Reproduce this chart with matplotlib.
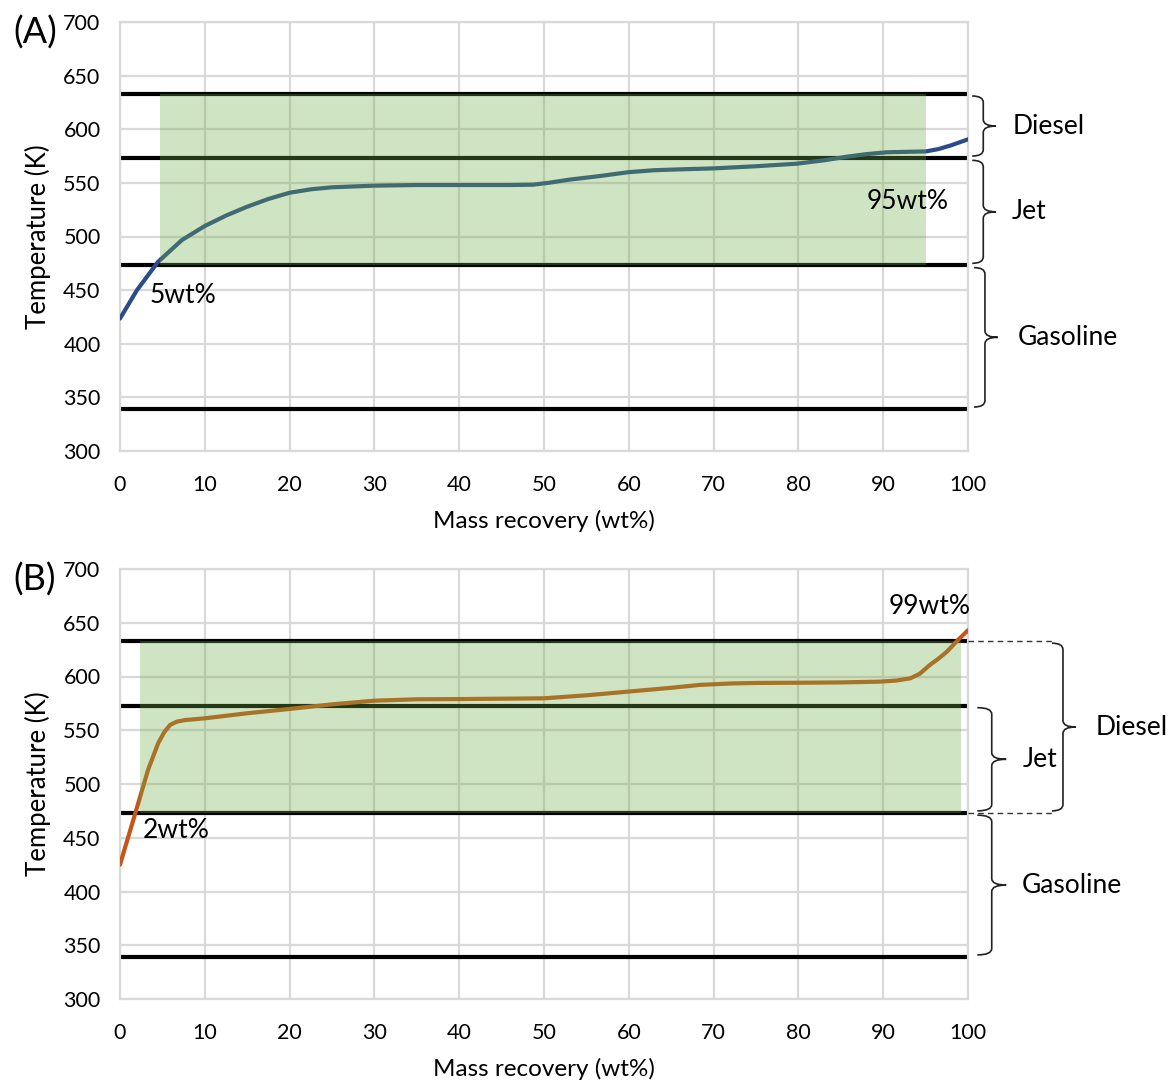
import matplotlib
matplotlib.use("Agg")
import matplotlib.pyplot as plt
from matplotlib.path import Path
from matplotlib.patches import PathPatch, Rectangle

plt.rcParams['font.family'] = ['Lato', 'DejaVu Sans']

# distillation curves
xA = [0, 2, 4.5, 7.3, 10, 12.5, 15, 17.5, 20, 22.5, 25, 30, 35, 40, 46, 48.7, 50.5, 53, 56.6, 60, 63, 66, 70, 75, 79.8, 83, 85.7, 88, 90.4, 93, 95, 96.5, 98, 100]
yA = [423.5, 450, 476.5, 496.7, 509.8, 519.5, 527.8, 535, 540.8, 544, 545.9, 547.4, 548, 548, 548, 548.3, 550, 553, 556.4, 560, 561.8, 562.6, 563.5, 565.5, 567.9, 571, 574.4, 576.8, 578.5, 579, 579.3, 581.5, 585, 590.6]

xB = [0, 1.8, 3.3, 4.5, 5.2, 5.9, 6.7, 7.7, 10, 15, 20, 25, 30, 35, 40, 50, 55, 60, 65, 68.4, 72, 75, 80, 85, 89.6, 91.5, 93.2, 94.3, 95.5, 96.5, 97.5, 98.9, 100]
yB = [425, 472.7, 513, 537.9, 548, 554.9, 558, 559.5, 561.1, 565.8, 569.8, 574.1, 577.5, 578.8, 579, 579.7, 582.5, 586, 589.5, 592.2, 593.5, 594, 594.2, 594.5, 595.2, 596.2, 598.3, 602.5, 610.7, 616.5, 623, 634.6, 643]

# cut temperatures (K)
cuts = [633, 573, 473, 339]
window_A = (4.7, 95.1)
window_B = (2.4, 99.2)
labels_A = [('5wt%', 3.5, 445), ('95wt%', 88.1, 533)]
labels_B = [('2wt%', 2.7, 457), ('99wt%', 90.6, 665)]

W, H = 1171, 1084
fig = plt.figure(figsize=(W / 100, H / 100), dpi=100)

grid_c = '#d9d9d9'
green = '#70ad47'
fs = 19


def brace(ax, xv, ytop, ybot, wl=1.3, wr=1.5, r=6):
    ym = (ytop + ybot) / 2
    verts = [(xv - wl, ytop), (xv, ytop), (xv, ytop - r),
             (xv, ym + r), (xv, ym), (xv + wr, ym),
             (xv, ym), (xv, ym - r),
             (xv, ybot + r), (xv, ybot), (xv - wl, ybot)]
    codes = [Path.MOVETO, Path.CURVE3, Path.CURVE3,
             Path.LINETO, Path.CURVE3, Path.CURVE3,
             Path.CURVE3, Path.CURVE3,
             Path.LINETO, Path.CURVE3, Path.CURVE3]
    p = PathPatch(Path(verts, codes), fill=False, lw=1.2, ec='#222222', clip_on=False, zorder=6)
    ax.add_patch(p)


def panel(rect, x, y, color, window, labels):
    ax = fig.add_axes(rect)
    ax.set_xlim(0, 100)
    ax.set_ylim(300, 700)
    ax.set_xticks(range(0, 101, 10))
    ax.set_yticks(range(300, 701, 50))
    ax.grid(True, color=grid_c, lw=1.6, zorder=0)
    for s in ax.spines.values():
        s.set_color(grid_c)
        s.set_linewidth(1.6)
    ax.tick_params(length=0, labelsize=15.5)
    ax.tick_params(axis='x', pad=17)
    ax.tick_params(axis='y', pad=14)
    for c in cuts:
        ax.axhline(c, color='black', lw=3, zorder=2)
    ax.plot(x, y, color=color, lw=3, zorder=3, solid_capstyle='round', solid_joinstyle='round')
    ax.add_patch(Rectangle((window[0], 473), window[1] - window[0], 633 - 473,
                           facecolor=green, alpha=0.33, lw=0, zorder=4))
    for t, tx, ty in labels:
        ax.text(tx, ty, t, fontsize=fs, ha='left', va='center', zorder=5)
    ax.text(-0.0967, 0.5, 'Temperature (K)', rotation=90, ha='center', va='center',
            fontsize=18.5, transform=ax.transAxes)
    ax.text(0.5, -0.163, 'Mass recovery (wt%)', ha='center', va='center',
            fontsize=17.5, transform=ax.transAxes)
    return ax


axA = panel([120 / W, 1 - 451 / H, 848 / W, 429 / H], xA, yA, '#2b4c88', window_A, labels_A)
axB = panel([120 / W, 1 - 999 / H, 848 / W, 430 / H], xB, yB, '#c4561a', window_B, labels_B)

# brackets panel A
brace(axA, 101.8, 631, 575)
brace(axA, 101.8, 571, 475)
brace(axA, 102.0, 471, 341)
axA.text(105.3, 603, 'Diesel', fontsize=fs, va='center', ha='left', clip_on=False)
axA.text(105.2, 523, 'Jet', fontsize=fs, va='center', ha='left', clip_on=False)
axA.text(105.9, 406, 'Gasoline', fontsize=fs, va='center', ha='left', clip_on=False)

# brackets panel B
for c in (633, 473):
    axB.plot([100, 110], [c, c], color='#333333', lw=1, ls=(0, (4, 3)), clip_on=False, zorder=6)
brace(axB, 111.2, 631, 475)
brace(axB, 102.8, 571, 475, wl=1.7, wr=1.7)
brace(axB, 102.8, 471, 341, wl=1.7, wr=1.7)
axB.text(115.0, 553, 'Diesel', fontsize=fs, va='center', ha='left', clip_on=False)
axB.text(106.4, 523, 'Jet', fontsize=fs, va='center', ha='left', clip_on=False)
axB.text(106.3, 406, 'Gasoline', fontsize=fs, va='center', ha='left', clip_on=False)

fig.text(35 / W, 1 - 33 / H, '(A)', fontsize=26, ha='center', va='center')
fig.text(35 / W, 1 - 580 / H, '(B)', fontsize=26, ha='center', va='center')

fig.savefig('out.png', dpi=100)
